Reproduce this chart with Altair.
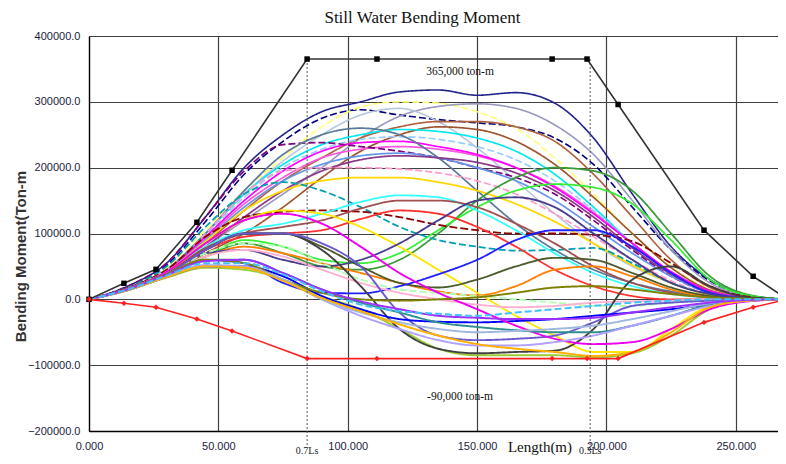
import altair as alt
import pandas as pd

# ---------------- data (bending moment in thousand ton-m) ----------------
X = [0, 15, 30, 45, 60, 75, 90, 105, 120, 135, 150, 165, 180, 195, 210, 225, 240, 255, 270]

navy_solid     = [0, 20, 55, 125, 200, 250, 285, 300, 315, 318, 310, 314, 298, 245, 160, 80, 30, 6, 0]
navy_dash      = [0, 19, 52, 118, 190, 240, 275, 288, 280, 273, 268, 262, 245, 205, 140, 75, 28, 6, 0]
yellow_dash    = [0, 18, 48, 105, 165, 215, 262, 292, 300, 298, 285, 260, 215, 160, 100, 50, 15, 3, 0]
lavender_gray  = [0, 15, 40, 80, 120, 160, 200, 245, 278, 293, 297, 290, 265, 220, 150, 75, 25, 5, 0]
light_steel    = [0, 17, 45, 100, 160, 210, 250, 280, 290, 270, 230, 180, 130, 85, 50, 25, 8, 2, 0]
sienna         = [0, 15, 40, 85, 135, 180, 215, 245, 262, 270, 270, 262, 240, 190, 125, 60, 18, 4, 0]
brown_rise     = [0, 15, 38, 70, 100, 140, 185, 225, 250, 262, 258, 240, 205, 155, 100, 48, 14, 3, 0]
cyan_hi        = [0, 17, 45, 100, 160, 205, 235, 250, 258, 255, 245, 225, 190, 140, 85, 40, 12, 3, 0]
lightblue_dash = [0, 16, 44, 97, 155, 200, 228, 243, 247, 243, 232, 212, 180, 135, 85, 40, 12, 3, 0]
hotpink        = [0, 16, 43, 92, 145, 185, 215, 228, 232, 228, 218, 200, 172, 132, 85, 42, 12, 3, 0]
magenta_hi     = [0, 16, 44, 95, 150, 195, 225, 238, 240, 232, 220, 200, 170, 130, 85, 42, 13, 3, 0]
purple_dash    = [0, 20, 55, 125, 195, 235, 238, 232, 225, 215, 200, 185, 160, 120, 75, 35, 10, 2, 0]
cornflower     = [0, 16, 42, 90, 140, 180, 205, 218, 222, 215, 200, 180, 150, 110, 70, 35, 10, 2, 0]
slate_gray     = [0, 17, 45, 100, 165, 220, 250, 260, 250, 215, 165, 115, 75, 45, 25, 12, 4, 1, 0]
purple_solid   = [0, 15, 40, 80, 125, 165, 195, 212, 218, 215, 208, 192, 165, 125, 78, 38, 11, 2, 0]
pink_dash      = [0, 17, 45, 100, 160, 195, 200, 200, 198, 192, 180, 160, 130, 95, 60, 28, 8, 2, 0]
gold           = [0, 16, 42, 88, 135, 165, 180, 185, 185, 178, 165, 145, 118, 85, 52, 25, 7, 2, 0]

dark_green     = [0, 15, 38, 65, 85, 70, 50, 45, 60, 100, 150, 185, 200, 195, 165, 100, 35, 7, 0]
lime           = [0, 15, 38, 65, 90, 80, 60, 55, 70, 105, 140, 165, 175, 170, 145, 90, 30, 6, 0]
teal_dash      = [0, 18, 50, 110, 160, 178, 165, 140, 110, 90, 80, 74, 75, 78, 55, 25, 8, 2, 0]
darkred_dash   = [0, 17, 45, 95, 125, 133, 135, 133, 125, 113, 105, 100, 100, 98, 88, 55, 20, 4, 0]
cyan_mid       = [0, 16, 42, 80, 105, 115, 130, 148, 158, 155, 135, 105, 70, 40, 20, 8, 3, 1, 0]
rosy_brown     = [0, 16, 40, 78, 100, 110, 120, 138, 150, 150, 140, 115, 85, 50, 25, 10, 3, 1, 0]
red_mid        = [0, 16, 40, 75, 95, 100, 105, 122, 135, 130, 110, 80, 45, 20, 5, 0, 0, 0, 0]
yellow_cross   = [0, 16, 42, 85, 120, 135, 130, 110, 80, 45, 10, -25, -55, -80, -80, -45, -10, -2, 0]
orange_mid     = [0, 15, 38, 65, 80, 70, 55, 40, 25, 12, 6, 20, 45, 50, 35, 15, 4, 1, 0]
dark_olive     = [0, 15, 38, 75, 100, 100, 80, 50, 25, 18, 30, 50, 63, 60, 40, 18, 5, 1, 0]
blue_rise      = [0, 15, 38, 60, 55, 25, 10, 9, 20, 38, 60, 90, 105, 105, 80, 40, 10, 2, 0]
slate_blue     = [0, 15, 38, 70, 75, 60, 50, 60, 85, 120, 150, 155, 140, 100, 60, 25, 8, 2, 0]
lightgreen_dash = [0, 15, 38, 70, 85, 80, 55, 30, 15, 10, 5, 0, -5, -10, -10, -5, -2, 0, 0]
pink_low       = [0, 15, 38, 65, 75, 65, 45, 25, 10, 0, -8, -12, -10, -5, -3, -2, 0, 0, 0]

yellow_green   = [0, 14, 33, 48, 45, 30, 5, -15, -45, -75, -85, -85, -85, -88, -82, -55, -15, -2, 0]
black_sag      = [0, 15, 38, 75, 100, 100, 75, 20, -45, -75, -82, -80, -78, -45, 30, 50, 20, 3, 0]
slate_blue2    = [0, 15, 38, 75, 100, 100, 85, 50, -20, -55, -62, -60, -55, -35, -10, -5, -2, 0, 0]
blue_sag       = [0, 14, 34, 50, 50, 35, 5, -15, -30, -34, -35, -33, -30, -25, -20, -15, -8, -2, 0]
magenta_sag    = [0, 16, 42, 85, 120, 130, 115, 80, 40, 10, -15, -40, -60, -68, -65, -45, -15, -3, 0]
teal_sag       = [0, 15, 38, 60, 60, 40, 15, -5, -20, -35, -42, -47, -50, -50, -40, -25, -8, -2, 0]
olive          = [0, 15, 38, 60, 55, 30, 10, 0, -2, 0, 3, 10, 18, 20, 15, 8, 3, 1, 0]
lavender       = [0, 14, 35, 52, 50, 30, 0, -25, -45, -62, -70, -70, -65, -55, -40, -25, -10, -2, 0]
steel_sag      = [0, 14, 34, 50, 48, 30, 0, -20, -35, -45, -50, -48, -45, -40, -30, -18, -6, -1, 0]
orange_sag     = [0, 14, 34, 50, 48, 28, 2, -18, -38, -55, -68, -75, -80, -86, -80, -50, -12, -2, 0]
violet_sag     = [0, 15, 37, 58, 60, 40, 15, -3, -15, -25, -28, -30, -30, -28, -20, -12, -5, -1, 0]
cyan_dash_low  = [0, 15, 36, 55, 55, 38, 12, -8, -18, -22, -25, -20, -15, -10, -5, -2, 0, 0, 0]

# (name, values, colour, dash, width)
SERIES = [
    ("navy_solid", navy_solid, "#22228c", [1, 0], 1.6),
    ("navy_dash", navy_dash, "#000080", [7, 3], 2.0),
    ("yellow_dash", yellow_dash, "#ffff70", [7, 3], 1.6),
    ("lavender_gray", lavender_gray, "#9a9ac0", [1, 0], 1.5),
    ("light_steel", light_steel, "#b8c8dc", [1, 0], 1.5),
    ("sienna", sienna, "#b0603a", [1, 0], 1.5),
    ("brown_rise", brown_rise, "#a0522d", [1, 0], 1.3),
    ("cyan_hi", cyan_hi, "#00e8f0", [1, 0], 1.6),
    ("lightblue_dash", lightblue_dash, "#99ccff", [7, 3], 1.5),
    ("hotpink", hotpink, "#ff55dd", [1, 0], 1.4),
    ("magenta_hi", magenta_hi, "#ff00ff", [1, 0], 1.5),
    ("purple_dash", purple_dash, "#800080", [7, 3], 2.0),
    ("cornflower", cornflower, "#6495ed", [1, 0], 1.4),
    ("slate_gray", slate_gray, "#5a7a9a", [1, 0], 1.4),
    ("purple_solid", purple_solid, "#8b3a8b", [1, 0], 1.4),
    ("pink_dash", pink_dash, "#ff99cc", [7, 3], 1.6),
    ("gold", gold, "#ffd700", [1, 0], 1.8),
    ("dark_green", dark_green, "#3a9a3a", [1, 0], 1.5),
    ("lime", lime, "#33ee33", [1, 0], 1.5),
    ("teal_dash", teal_dash, "#00a0b0", [7, 3], 1.8),
    ("darkred_dash", darkred_dash, "#8b0000", [8, 3], 2.6),
    ("cyan_mid", cyan_mid, "#33ffff", [1, 0], 1.6),
    ("rosy_brown", rosy_brown, "#a05050", [1, 0], 1.4),
    ("red_mid", red_mid, "#ff3030", [1, 0], 1.4),
    ("yellow_cross", yellow_cross, "#ffe600", [1, 0], 1.6),
    ("orange_mid", orange_mid, "#ff7f00", [1, 0], 1.6),
    ("dark_olive", dark_olive, "#4b5a2a", [1, 0], 2.2),
    ("blue_rise", blue_rise, "#2020ff", [1, 0], 1.5),
    ("slate_blue", slate_blue, "#483d8b", [1, 0], 1.4),
    ("lightgreen_dash", lightgreen_dash, "#b0ffb0", [7, 3], 1.5),
    ("pink_low", pink_low, "#ffb0d0", [1, 0], 1.4),
    ("yellow_green", yellow_green, "#9acd32", [1, 0], 2.2),
    ("black_sag", black_sag, "#404040", [1, 0], 1.5),
    ("slate_blue2", slate_blue2, "#6a5acd", [1, 0], 1.4),
    ("blue_sag", blue_sag, "#0000ff", [1, 0], 1.6),
    ("magenta_sag", magenta_sag, "#ee00ee", [1, 0], 1.4),
    ("teal_sag", teal_sag, "#2f8f8f", [1, 0], 1.4),
    ("olive", olive, "#808000", [1, 0], 1.4),
    ("lavender", lavender, "#b0a0ff", [1, 0], 1.4),
    ("steel_sag", steel_sag, "#a0b8e0", [1, 0], 1.4),
    ("orange_sag", orange_sag, "#ffb000", [1, 0], 1.6),
    ("violet_sag", violet_sag, "#9b30ff", [1, 0], 1.4),
    ("cyan_dash_low", cyan_dash_low, "#40c0ff", [7, 3], 1.5),
]

# envelope (allowable) curves
ENV_X = [0, 13.5, 25.9, 41.7, 55.3, 84.3, 111.3, 179.0, 192.5, 204.5, 237.7, 256.7, 270]
ENV_HOG = [0, 24300, 45600, 117000, 196000, 365000, 365000, 365000, 365000, 296000, 105000, 35000, 0]
ENV_SAG = [0, -6000, -12000, -30000, -48000, -90000, -90000, -90000, -90000, -90000, -35000, -12000, 0]

LS_X = [84.3, 193.7]          # 0.7Ls / 0.3Ls positions
LS_LABELS = ["0.7Ls", "0.3Ls"]

# ---------------- build tables ----------------
rows = []
for name, vals, _, _, _ in SERIES:
    for x, v in zip(X, vals):
        rows.append({"name": name, "x": x, "y": v * 1000})
curves = pd.DataFrame(rows)
names = [s[0] for s in SERIES]
colors = [s[2] for s in SERIES]
dashes = [s[3] for s in SERIES]
widths = [s[4] for s in SERIES]

env = pd.DataFrame({"x": ENV_X * 2, "y": ENV_HOG + ENV_SAG,
                    "kind": ["hog"] * len(ENV_X) + ["sag"] * len(ENV_X)})
env_pts = env[env["x"] < 265]

XMAX = 266.3
xs = alt.Scale(domain=[0, XMAX], nice=False, zero=False)
ys = alt.Scale(domain=[-200000, 400000], nice=False)

FONT_LBL = "Liberation Sans"
FONT_SERIF = "Liberation Serif"

base = alt.Chart(curves)
lines = base.mark_line(interpolate="monotone", clip=True).encode(
    x=alt.X("x:Q", scale=xs,
            axis=alt.Axis(values=[0, 50, 100, 150, 200, 250], format=".3f", title=None,
                          grid=True, gridColor="#404040", gridWidth=1.2, ticks=False,
                          domainColor="#000", domainWidth=1.3, labelFont=FONT_LBL,
                          labelFontSize=11, labelColor="#1c1c3c", labelPadding=9,
                          labelFlush=False)),
    y=alt.Y("y:Q", scale=ys,
            axis=alt.Axis(values=[-200000, -100000, 0, 100000, 200000, 300000, 400000],
                          format=".1f", title="Bending Moment(Ton-m",
                          grid=True, gridColor="#404040", gridWidth=1.2, ticks=False,
                          domainColor="#000", domainWidth=1.3, labelFont=FONT_LBL,
                          labelFontSize=11, labelColor="#1c1c3c", labelPadding=9,
                          labelFlush=False,
                          titleFont=FONT_LBL, titleFontSize=15, titleFontWeight="bold",
                          titleColor="#333", titleX=-69, titleY=220, titleAngle=270,
                          titleAlign="center", titleBaseline="middle")),
    color=alt.Color("name:N", scale=alt.Scale(domain=names, range=colors), legend=None),
    strokeDash=alt.StrokeDash("name:N", scale=alt.Scale(domain=names, range=dashes), legend=None),
    strokeWidth=alt.StrokeWidth("name:N", scale=alt.Scale(domain=names, range=widths), legend=None),
    detail="name:N",
)

env_lines = alt.Chart(env).mark_line(clip=True, strokeWidth=1.6).encode(
    x=alt.X("x:Q", scale=xs), y=alt.Y("y:Q", scale=ys),
    color=alt.Color("kind:N", scale=alt.Scale(domain=["hog", "sag"], range=["#333333", "#ff2020"]), legend=None),
)
env_marks = alt.Chart(env_pts).mark_point(filled=True, opacity=1).encode(
    x=alt.X("x:Q", scale=xs), y=alt.Y("y:Q", scale=ys),
    color=alt.Color("kind:N", scale=alt.Scale(domain=["hog", "sag"], range=["#000000", "#ff2020"]), legend=None),
    shape=alt.Shape("kind:N", scale=alt.Scale(domain=["hog", "sag"], range=["square", "diamond"]), legend=None),
    size=alt.value(30),
)

ls_df = pd.DataFrame({"x": LS_X, "top": [365000, 365000], "bot": [-224000, -224000],
                      "label": LS_LABELS, "ly": [-230000, -230000]})
ls_rules = alt.Chart(ls_df).mark_rule(strokeDash=[2, 2], color="#555", strokeWidth=1).encode(
    x=alt.X("x:Q", scale=xs), y=alt.Y("top:Q", scale=ys), y2="bot:Q")
ls_text = alt.Chart(ls_df).mark_text(font=FONT_SERIF, fontSize=10, color="#222", baseline="middle").encode(
    x=alt.X("x:Q", scale=xs), y=alt.Y("ly:Q", scale=ys), text="label:N")

ann_df = pd.DataFrame({
    "x": [143.4, 143.4, 174.3],
    "y": [345000, -149000, -225000],
    "text": ["365,000 ton-m", "-90,000 ton-m", "Length(m)"],
    "size": [11.5, 11.5, 15],
})
ann = alt.Chart(ann_df).mark_text(font=FONT_SERIF, color="#111", baseline="middle").encode(
    x=alt.X("x:Q", scale=xs), y=alt.Y("y:Q", scale=ys), text="text:N",
    size=alt.Size("size:Q", scale=None, legend=None),
)

chart = alt.layer(lines, ls_rules, env_lines, env_marks, ls_text, ann).resolve_scale(
    color="independent", shape="independent", strokeDash="independent", strokeWidth="independent"
).properties(
    width=689, height=395,
    autosize=alt.AutoSizeParams(type="none"),
    padding={"left": 81, "top": 28, "right": 0, "bottom": 25},
    title=alt.TitleParams("Still Water Bending Moment", font=FONT_SERIF, fontSize=17,
                          fontWeight="normal", color="#111", offset=3, dx=-11, anchor="middle"),
).configure_view(stroke=None).configure(background="white")

chart.save("out.html", embed_options={"renderer": "svg", "actions": False})
